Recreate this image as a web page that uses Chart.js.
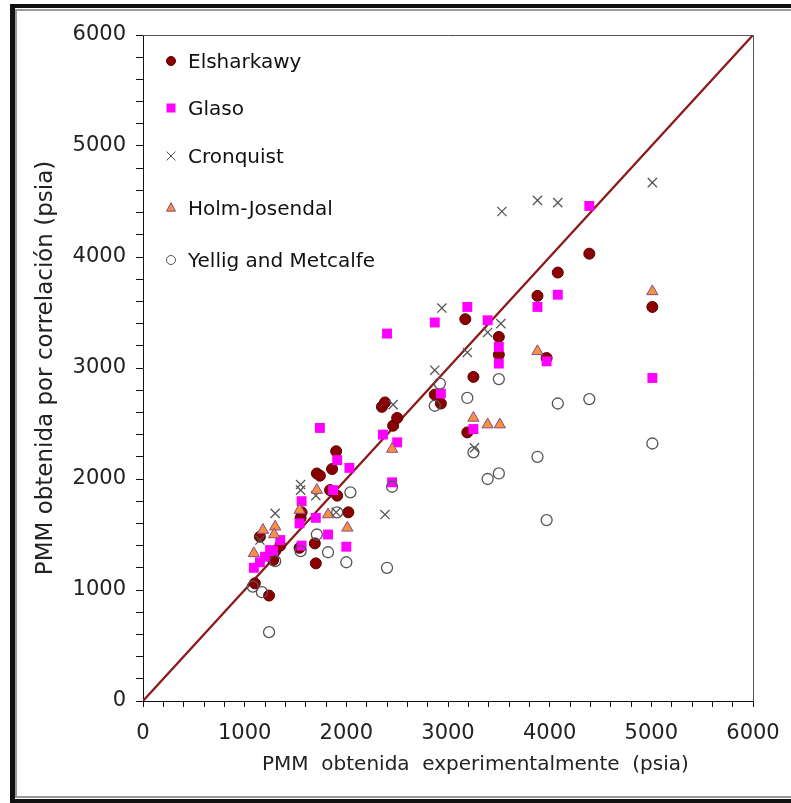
<!DOCTYPE html>
<html>
<head>
<meta charset="utf-8">
<script src="https://cdn.jsdelivr.net/npm/chart.js@4.4.1/dist/chart.umd.min.js"></script>
<style>
    html, body { margin: 0; padding: 0; background: #fff; }
    #wrap { position: relative; width: 791px; height: 803px; }
</style>
</head>
<body>
<div id="wrap"><canvas id="pmmChart" width="791" height="803"></canvas></div>
<script>
var elsharkawy = [
    [1100, 1060], [1150, 1480], [1240, 950], [1280, 1270], [1300, 1350], [1350, 1400],
    [1540, 1380], [1550, 1650], [1560, 1700], [1690, 1420], [1700, 1240], [1710, 2050],
    [1740, 2030], [1840, 1900], [1860, 2090], [1900, 2250], [1910, 1850], [2020, 1700],
    [2350, 2650], [2380, 2690], [2460, 2480], [2500, 2550], [2870, 2760], [2930, 2680],
    [3170, 3440], [3190, 2420], [3250, 2920], [3500, 3280], [3500, 3120], [3880, 3650],
    [3970, 3090], [4080, 3860], [4390, 4030], [5010, 3550]
];
var glaso = [
    [1090, 1200], [1150, 1250], [1200, 1300], [1250, 1360], [1280, 1350], [1350, 1450],
    [1540, 1600], [1560, 1800], [1560, 1400], [1700, 1650], [1740, 2460], [1820, 1500],
    [1870, 1900], [1910, 2170], [2000, 1390], [2030, 2100], [2360, 2400], [2400, 3310],
    [2450, 1970], [2500, 2330], [2870, 3410], [2930, 2770], [3190, 3550], [3250, 2450],
    [3390, 3430], [3500, 3190], [3500, 3040], [3880, 3550], [3970, 3060], [4080, 3660],
    [4390, 4460], [5010, 2910]
];
var cronquist = [
    [1150, 1450], [1300, 1690], [1550, 1950], [1550, 1900], [1700, 1850], [1900, 1700],
    [2380, 1680], [2460, 2670], [2870, 2980], [2940, 3540], [3190, 3140], [3260, 2280],
    [3390, 3320], [3520, 3400], [3530, 4410], [3880, 4510], [4080, 4490], [5010, 4670]
];
var holmJosendal = [
    [1090, 1330], [1180, 1540], [1300, 1570], [1290, 1500], [1540, 1720], [1710, 1900],
    [1820, 1680], [2010, 1560], [2450, 2270], [3250, 2550], [3390, 2490], [3510, 2490],
    [3880, 3150], [5010, 3690]
];
var yelligMetcalfe = [
    [1080, 1030], [1170, 980], [1240, 620], [1300, 1260], [1550, 1350], [1710, 1500],
    [1820, 1340], [2000, 1250], [2040, 1880], [1910, 1700], [2400, 1200], [2450, 1930],
    [2870, 2660], [2920, 2860], [3190, 2730], [3250, 2240], [3390, 2000], [3500, 2900],
    [3500, 2050], [3880, 2200], [3970, 1630], [4080, 2680], [4390, 2720], [5010, 2320]
];
var identityLine = [[0, 0], [6000, 6000]];
var axisMin = 0, axisMax = 6000, minorStep = 200, majorStep = 1000;
var xTitle = 'PMM  obtenida  experimentalmente  (psia)';
var yTitle = 'PMM obtenida por correlación (psia)';

var FONT = '"DejaVu Sans", "Liberation Sans", Arial, sans-serif';

function toPoints(arr) {
    return arr.map(function (p) { return { x: p[0], y: p[1] }; });
}

// legend entries, drawn inside the plot area
var legendItems = [
    { text: 'Elsharkawy', style: 'circle', fill: '#8b0000', stroke: '#5c0000' },
    { text: 'Glaso', style: 'rect', fill: '#ff00ff', stroke: '#ff00ff' },
    { text: 'Cronquist', style: 'crossRot', fill: '#555', stroke: '#555' },
    { text: 'Holm-Josendal', style: 'triangle', fill: '#f59140', stroke: '#8a4a8a' },
    { text: 'Yellig and Metcalfe', style: 'circle', fill: '#fff', stroke: '#555' }
];

var framePlugin = {
    id: 'frame',
    beforeDraw: function (chart) {
        var ctx = chart.ctx;
        ctx.save();
        ctx.fillStyle = '#fff';
        ctx.fillRect(0, 0, chart.width, chart.height);
        ctx.fillStyle = '#111';
        ctx.fillRect(10, 4, chart.width - 10, 4);
        ctx.fillRect(10, 4, 5, chart.height - 4);
        ctx.fillRect(10, chart.height - 4, chart.width - 10, 4);
        ctx.fillStyle = '#9a9a9a';
        ctx.fillRect(15, 9, chart.width - 15, 2);
        ctx.fillRect(15, 9, 2, chart.height - 15);
        ctx.fillRect(15, chart.height - 7, chart.width - 15, 2);
        ctx.restore();
    },
    afterDatasetsDraw: function (chart) {
        var a = chart.chartArea, ctx = chart.ctx;
        ctx.save();
        ctx.strokeStyle = '#555';
        ctx.lineWidth = 1;
        ctx.beginPath();
        ctx.moveTo(a.left, a.top + 0.5);
        ctx.lineTo(a.right + 0.5, a.top + 0.5);
        ctx.lineTo(a.right + 0.5, a.bottom);
        ctx.stroke();
        // x axis title sits a bit right of the plot centre in the original
        ctx.font = '20px ' + FONT;
        ctx.fillStyle = '#222';
        ctx.textAlign = 'center';
        ctx.textBaseline = 'middle';
        ctx.fillText(xTitle, a.left + (a.right - a.left) * 0.545, 765);
        ctx.restore();
    }
};

function drawMarker(ctx, style, x, y, r, fill, stroke) {
    ctx.fillStyle = fill;
    ctx.strokeStyle = stroke;
    ctx.lineWidth = 1;
    ctx.beginPath();
    if (style == 'circle') {
        ctx.arc(x, y, r, 0, Math.PI * 2);
        ctx.fill();
        ctx.stroke();
    } else if (style == 'rect') {
        ctx.rect(x - r, y - r, r * 2, r * 2);
        ctx.fill();
    } else if (style == 'triangle') {
        ctx.moveTo(x, y - r * 1.2);
        ctx.lineTo(x + r, y + r * 0.7);
        ctx.lineTo(x - r, y + r * 0.7);
        ctx.closePath();
        ctx.fill();
        ctx.stroke();
    } else {
        ctx.moveTo(x - r, y - r); ctx.lineTo(x + r, y + r);
        ctx.moveTo(x + r, y - r); ctx.lineTo(x - r, y + r);
        ctx.stroke();
    }
}

var legendPlugin = {
    id: 'innerLegend',
    afterDraw: function (chart) {
        var a = chart.chartArea, ctx = chart.ctx;
        var rowY = [28, 75, 123, 175, 227];
        ctx.save();
        ctx.font = '20px ' + FONT;
        ctx.textBaseline = 'middle';
        for (var i = 0; i < legendItems.length; i++) {
            var it = legendItems[i];
            var y = a.top + rowY[i];
            drawMarker(ctx, it.style, a.left + 28, y - 2, 4.5, it.fill, it.stroke);
            ctx.fillStyle = '#111';
            ctx.fillText(it.text, a.left + 45, y);
        }
        ctx.restore();
    }
};

function tickLabel(v) {
    return v % majorStep == 0 ? String(v) : '';
}

function BindScatterChart() {
    var ctx = document.getElementById('pmmChart');
    new Chart(ctx, {
        type: 'scatter',
        plugins: [framePlugin, legendPlugin],
        data: {
            datasets: [
                {
                    label: 'Elsharkawy', data: toPoints(elsharkawy), order: 5,
                    pointStyle: 'circle', pointRadius: 5.5,
                    backgroundColor: '#8b0000', borderColor: '#5c0000', borderWidth: 1
                },
                {
                    label: 'Glaso', data: toPoints(glaso), order: 4,
                    pointStyle: 'rect', pointRadius: 7,
                    backgroundColor: '#ff00ff', borderColor: '#ff00ff', borderWidth: 0
                },
                {
                    label: 'Cronquist', data: toPoints(cronquist), order: 3,
                    pointStyle: 'crossRot', pointRadius: 6.5,
                    backgroundColor: '#555', borderColor: '#555', borderWidth: 1.3
                },
                {
                    label: 'Holm-Josendal', data: toPoints(holmJosendal), order: 2,
                    pointStyle: 'triangle', pointRadius: 6.5,
                    backgroundColor: '#f59140', borderColor: '#8a4a8a', borderWidth: 1
                },
                {
                    label: 'Yellig and Metcalfe', data: toPoints(yelligMetcalfe), order: 1,
                    pointStyle: 'circle', pointRadius: 5.5,
                    backgroundColor: 'rgba(255,255,255,0)', borderColor: '#555', borderWidth: 1.3
                },
                {
                    type: 'line', label: 'y = x', data: toPoints(identityLine), order: 6,
                    borderColor: '#8b1a1a', borderWidth: 2.2, pointRadius: 0, fill: false
                }
            ]
        },
        options: {
            responsive: false,
            animation: false,
            layout: { padding: { left: 32, top: 35, right: 38, bottom: 50 } },
            plugins: {
                legend: { display: false },
                tooltip: { enabled: false }
            },
            scales: {
                x: {
                    type: 'linear', min: axisMin, max: axisMax,
                    afterFit: function (s) { s.height = 52; s.paddingLeft = 0; s.paddingRight = 0; },
                    border: { display: true, color: '#111', width: 1 },
                    grid: { drawOnChartArea: false, drawTicks: true, tickLength: 6, color: '#111' },
                    ticks: {
                        stepSize: minorStep, autoSkip: false, maxRotation: 0, padding: 14,
                        color: '#222', font: { family: FONT, size: 21 },
                        callback: tickLabel
                    }
                },
                y: {
                    type: 'linear', min: axisMin, max: axisMax,
                    afterFit: function (s) { s.width = 111; },
                    border: { display: true, color: '#111', width: 1 },
                    grid: { drawOnChartArea: false, drawTicks: true, tickLength: 7, color: '#111' },
                    ticks: {
                        stepSize: minorStep, autoSkip: false, padding: 10,
                        color: '#222', font: { family: FONT, size: 21 },
                        callback: tickLabel
                    },
                    title: {
                        display: true, text: yTitle, color: '#222',
                        font: { family: FONT, size: 23 }, padding: { top: 0, bottom: 0 }
                    }
                }
            }
        }
    });
}

BindScatterChart();
</script>
</body>
</html>
